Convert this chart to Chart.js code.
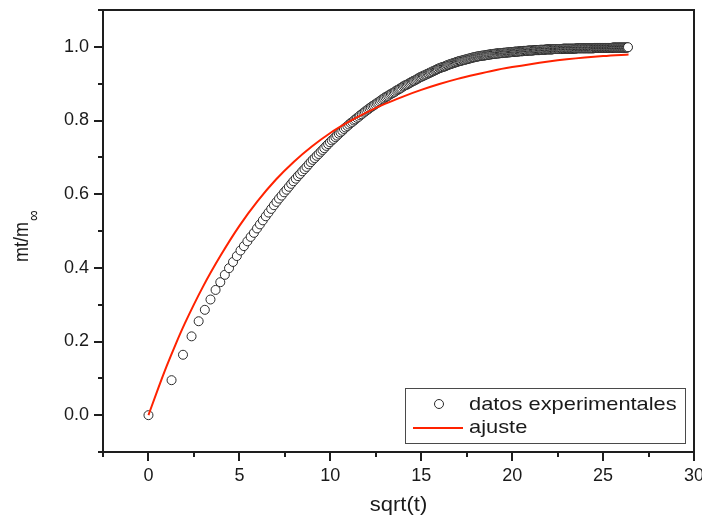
<!DOCTYPE html>
<html>
<head>
<meta charset="utf-8">
<script src="https://cdn.jsdelivr.net/npm/chart.js@4.4.1/dist/chart.umd.min.js"></script>
<style>
  html, body { margin: 0; padding: 0; background: #fff; }
  canvas { display: block; }
</style>
</head>
<body>
<canvas id="grafico" width="702" height="516"></canvas>
<script>
const xDatos = [
  0, 1.27, 1.90, 2.37, 2.76, 3.10, 3.41, 3.69, 3.95, 4.20,
  4.43, 4.65, 4.86, 5.06, 5.25, 5.44, 5.62, 5.80, 5.97, 6.13,
  6.29, 6.45, 6.60, 6.75, 6.90, 7.04, 7.18, 7.32, 7.46, 7.59,
  7.72, 7.85, 7.97, 8.10, 8.22, 8.34, 8.46, 8.58, 8.69, 8.81,
  8.92, 9.03, 9.14, 9.25, 9.36, 9.47, 9.57, 9.67, 9.78, 9.88,
  9.98, 10.08, 10.18, 10.28, 10.37, 10.47, 10.56, 10.66, 10.75, 10.84,
  10.94, 11.03, 11.12, 11.21, 11.30, 11.38, 11.47, 11.56, 11.64, 11.73,
  11.82, 11.90, 11.98, 12.07, 12.15, 12.23, 12.31, 12.39, 12.47, 12.55,
  12.63, 12.71, 12.79, 12.87, 12.95, 13.02, 13.10, 13.18, 13.25, 13.33,
  13.40, 13.48, 13.55, 13.62, 13.70, 13.77, 13.84, 13.91, 13.99, 14.06,
  14.13, 14.20, 14.27, 14.34, 14.41, 14.48, 14.55, 14.61, 14.68, 14.75,
  14.82, 14.89, 14.95, 15.02, 15.09, 15.15, 15.22, 15.28, 15.35, 15.41,
  15.48, 15.54, 15.61, 15.67, 15.74, 15.80, 15.86, 15.92, 15.99, 16.05,
  16.11, 16.17, 16.24, 16.30, 16.36, 16.42, 16.48, 16.54, 16.60, 16.66,
  16.72, 16.78, 16.84, 16.90, 16.96, 17.02, 17.08, 17.13, 17.19, 17.25,
  17.31, 17.37, 17.42, 17.48, 17.54, 17.59, 17.65, 17.71, 17.76, 17.82,
  17.88, 17.93, 17.99, 18.04, 18.10, 18.15, 18.21, 18.26, 18.32, 18.37,
  18.43, 18.48, 18.54, 18.59, 18.64, 18.70, 18.75, 18.80, 18.86, 18.91,
  18.96, 19.02, 19.07, 19.12, 19.17, 19.22, 19.28, 19.33, 19.38, 19.43,
  19.48, 19.53, 19.59, 19.64, 19.69, 19.74, 19.79, 19.84, 19.89, 19.94,
  19.99, 20.04, 20.09, 20.14, 20.19, 20.24, 20.29, 20.34, 20.39, 20.44,
  20.48, 20.53, 20.58, 20.63, 20.68, 20.73, 20.77, 20.82, 20.87, 20.92,
  20.97, 21.01, 21.06, 21.11, 21.16, 21.20, 21.25, 21.30, 21.34, 21.39,
  21.44, 21.49, 21.53, 21.58, 21.62, 21.67, 21.72, 21.76, 21.81, 21.85,
  21.90, 21.95, 21.99, 22.04, 22.08, 22.13, 22.17, 22.22, 22.26, 22.31,
  22.35, 22.40, 22.44, 22.49, 22.53, 22.57, 22.62, 22.66, 22.71, 22.75,
  22.80, 22.84, 22.88, 22.93, 22.97, 23.01, 23.06, 23.10, 23.14, 23.19,
  23.23, 23.27, 23.32, 23.36, 23.40, 23.44, 23.49, 23.53, 23.57, 23.61,
  23.66, 23.70, 23.74, 23.78, 23.82, 23.87, 23.91, 23.95, 23.99, 24.03,
  24.07, 24.12, 24.16, 24.20, 24.24, 24.28, 24.32, 24.36, 24.40, 24.45,
  24.49, 24.53, 24.57, 24.61, 24.65, 24.69, 24.73, 24.77, 24.81, 24.85,
  24.89, 24.93, 24.97, 25.01, 25.05, 25.09, 25.13, 25.17, 25.21, 25.25,
  25.29, 25.33, 25.37, 25.41, 25.45, 25.49, 25.53, 25.56, 25.60, 25.64,
  25.68, 25.72, 25.76, 25.80, 25.84, 25.88, 25.92, 25.95, 25.99, 26.03,
  26.07, 26.11, 26.15, 26.18, 26.22, 26.26, 26.30, 26.34, 26.37
];
const yDatos = [
  0, 0.095, 0.164, 0.214, 0.255, 0.286, 0.314, 0.340, 0.361, 0.381,
  0.399, 0.416, 0.432, 0.447, 0.459, 0.472, 0.484, 0.495, 0.507, 0.518,
  0.529, 0.540, 0.550, 0.560, 0.570, 0.579, 0.588, 0.596, 0.605, 0.612,
  0.620, 0.628, 0.635, 0.642, 0.649, 0.655, 0.662, 0.668, 0.674, 0.681,
  0.687, 0.693, 0.698, 0.704, 0.709, 0.715, 0.720, 0.725, 0.731, 0.736,
  0.741, 0.746, 0.750, 0.755, 0.759, 0.764, 0.768, 0.772, 0.777, 0.781,
  0.785, 0.789, 0.793, 0.796, 0.800, 0.803, 0.807, 0.810, 0.814, 0.817,
  0.821, 0.824, 0.827, 0.830, 0.833, 0.836, 0.839, 0.841, 0.844, 0.847,
  0.849, 0.852, 0.855, 0.858, 0.860, 0.863, 0.865, 0.867, 0.870, 0.872,
  0.874, 0.876, 0.878, 0.881, 0.883, 0.885, 0.887, 0.889, 0.892, 0.894,
  0.896, 0.897, 0.899, 0.901, 0.903, 0.905, 0.907, 0.908, 0.910, 0.912,
  0.914, 0.916, 0.918, 0.919, 0.921, 0.922, 0.924, 0.925, 0.927, 0.928,
  0.930, 0.931, 0.933, 0.934, 0.936, 0.937, 0.939, 0.940, 0.942, 0.943,
  0.944, 0.945, 0.946, 0.947, 0.948, 0.950, 0.951, 0.952, 0.953, 0.954,
  0.955, 0.956, 0.957, 0.958, 0.959, 0.960, 0.961, 0.962, 0.962, 0.963,
  0.964, 0.965, 0.965, 0.966, 0.967, 0.968, 0.968, 0.969, 0.970, 0.971,
  0.971, 0.972, 0.973, 0.973, 0.974, 0.974, 0.975, 0.975, 0.976, 0.976,
  0.976, 0.977, 0.977, 0.978, 0.978, 0.979, 0.979, 0.979, 0.980, 0.980,
  0.981, 0.981, 0.981, 0.982, 0.982, 0.982, 0.982, 0.983, 0.983, 0.983,
  0.983, 0.984, 0.984, 0.984, 0.984, 0.985, 0.985, 0.985, 0.985, 0.986,
  0.986, 0.986, 0.986, 0.987, 0.987, 0.987, 0.987, 0.987, 0.988, 0.988,
  0.988, 0.988, 0.988, 0.989, 0.989, 0.989, 0.989, 0.989, 0.990, 0.990,
  0.990, 0.990, 0.990, 0.990, 0.990, 0.991, 0.991, 0.991, 0.991, 0.991,
  0.991, 0.991, 0.992, 0.992, 0.992, 0.992, 0.992, 0.992, 0.992, 0.993,
  0.993, 0.993, 0.993, 0.993, 0.993, 0.993, 0.993, 0.993, 0.994, 0.994,
  0.994, 0.994, 0.994, 0.994, 0.994, 0.994, 0.994, 0.994, 0.994, 0.994,
  0.995, 0.995, 0.995, 0.995, 0.995, 0.995, 0.995, 0.995, 0.995, 0.995,
  0.995, 0.995, 0.995, 0.995, 0.995, 0.995, 0.995, 0.996, 0.996, 0.996,
  0.996, 0.996, 0.996, 0.996, 0.996, 0.996, 0.996, 0.996, 0.996, 0.996,
  0.996, 0.996, 0.996, 0.996, 0.996, 0.996, 0.996, 0.996, 0.996, 0.996,
  0.996, 0.997, 0.997, 0.997, 0.997, 0.997, 0.997, 0.997, 0.997, 0.997,
  0.997, 0.997, 0.997, 0.997, 0.997, 0.997, 0.997, 0.997, 0.997, 0.997,
  0.997, 0.997, 0.997, 0.997, 0.997, 0.997, 0.998, 0.998, 0.998, 0.998,
  0.998, 0.998, 0.998, 0.998, 0.998, 0.998, 0.998, 0.998, 0.998, 0.998,
  0.998, 0.998, 0.998, 0.998, 0.998, 0.998, 0.998, 0.998, 0.999
];

// curva de ajuste
const xAjuste = [0, 0.5, 1, 1.5, 2, 3, 4, 5, 6, 7, 8, 9, 10, 11, 12, 13, 14, 15, 16, 17, 18, 19, 20, 21, 22, 23, 24, 25, 26, 26.4];
const yAjuste = [0, 0.068, 0.133, 0.193, 0.249, 0.349, 0.436, 0.514, 0.581, 0.639, 0.688, 0.730, 0.766, 0.796, 0.822, 0.845, 0.865, 0.883, 0.899, 0.913, 0.925, 0.936, 0.945, 0.953, 0.960, 0.966, 0.971, 0.975, 0.978, 0.979];

// marcas de los ejes (las vacias son marcas menores)
const ejeXMarcas = [-2.5, 0, 2.5, 5, 7.5, 10, 12.5, 15, 17.5, 20, 22.5, 25, 27.5, 30];
const ejeXEtiquetas = ['', '0', '', '5', '', '10', '', '15', '', '20', '', '25', '', '30'];
const ejeYMarcas = [-0.1, 0, 0.1, 0.2, 0.3, 0.4, 0.5, 0.6, 0.7, 0.8, 0.9, 1.0, 1.1];
const ejeYEtiquetas = ['', '0.0', '', '0.2', '', '0.4', '', '0.6', '', '0.8', '', '1.0', ''];

const fuente = '"Liberation Sans", Arial, sans-serif';
const colorTexto = '#1a1a1a';
const rojo = '#ff2200';

// marco, marcas, leyenda y titulos de los ejes
const marco = {
  id: 'marco',
  afterDraw(chart) {
    const ctx = chart.ctx;
    const a = chart.chartArea;
    const sx = chart.scales.x;
    const sy = chart.scales.y;
    const linea = (x1, y1, x2, y2) => {
      ctx.beginPath(); ctx.moveTo(x1, y1); ctx.lineTo(x2, y2); ctx.stroke();
    };
    ctx.save();
    ctx.strokeStyle = '#1e1e1e';
    ctx.lineWidth = 2;
    ejeYMarcas.forEach((v, i) => {
      const py = Math.round(sy.getPixelForValue(v));
      linea(a.left - (ejeYEtiquetas[i] ? 9 : 5), py, a.left, py);
    });
    ejeXMarcas.forEach((v, i) => {
      const px = Math.round(sx.getPixelForValue(v));
      linea(px, a.bottom, px, a.bottom + (ejeXEtiquetas[i] ? 9 : 5));
    });
    ctx.strokeRect(a.left, a.top, a.right - a.left, a.bottom - a.top);

    // leyenda
    const ds = chart.data.datasets;
    ctx.lineWidth = 1;
    ctx.strokeStyle = '#4a4a4a';
    ctx.strokeRect(405.5, 388.5, 280, 55);
    ctx.beginPath();
    ctx.arc(439, 404, 4.5, 0, 2 * Math.PI);
    ctx.fillStyle = '#fff';
    ctx.fill();
    ctx.strokeStyle = '#2a2a2a';
    ctx.stroke();
    ctx.strokeStyle = rojo;
    ctx.lineWidth = 2;
    linea(413, 428, 463, 428);
    ctx.fillStyle = colorTexto;
    ctx.font = '19px ' + fuente;
    ctx.textAlign = 'left';
    ctx.textBaseline = 'alphabetic';
    [[ds[1].label, 410], [ds[0].label, 433]].forEach(([txt, y]) => {
      ctx.save();
      ctx.translate(469, y);
      ctx.scale(1.15, 1);
      ctx.fillText(txt, 0, 0);
      ctx.restore();
    });

    // titulo eje x
    ctx.save();
    ctx.translate((a.left + a.right) / 2, 511);
    ctx.scale(1.1, 1);
    ctx.font = '20px ' + fuente;
    ctx.textAlign = 'center';
    ctx.fillText('sqrt(t)', 0, 0);
    ctx.restore();

    // titulo eje y con subindice
    ctx.save();
    ctx.translate(28, 262);
    ctx.scale(1.13, 1);
    ctx.rotate(-Math.PI / 2);
    ctx.font = '18px ' + fuente;
    ctx.textAlign = 'left';
    ctx.fillText('mt/m', 0, 0);
    const w = ctx.measureText('mt/m').width;
    ctx.font = '15px ' + fuente;
    ctx.fillText('\u221E', w + 1, 10);
    ctx.restore();

    ctx.restore();
  }
};

const grafico = new Chart(document.getElementById('grafico'), {
  type: 'scatter',
  data: {
    datasets: [
      {
        label: 'ajuste',
        data: xAjuste.map((x, i) => ({ x: x, y: yAjuste[i] })),
        showLine: true,
        borderColor: rojo,
        borderWidth: 2,
        pointRadius: 0,
        cubicInterpolationMode: 'monotone',
        fill: false
      },
      {
        label: 'datos experimentales',
        data: xDatos.map((x, i) => ({ x: x, y: yDatos[i] })),
        showLine: false,
        pointStyle: 'circle',
        pointRadius: 4.5,
        borderWidth: 1,
        borderColor: '#2a2a2a',
        backgroundColor: '#fff',
        pointBorderColor: '#2a2a2a',
        pointBackgroundColor: '#fff'
      }
    ]
  },
  options: {
    responsive: false,
    animation: false,
    devicePixelRatio: 1,
    layout: { padding: { top: 10, right: 8, left: 0, bottom: 0 } },
    plugins: {
      legend: { display: false },
      tooltip: { enabled: false }
    },
    scales: {
      x: {
        type: 'linear',
        min: -2.5,
        max: 30,
        afterBuildTicks: s => { s.ticks = ejeXMarcas.map(v => ({ value: v })); },
        afterFit: s => { s.height = 64; s.paddingLeft = 0; s.paddingRight = 0; },
        grid: { display: false, drawTicks: false },
        border: { display: false },
        ticks: {
          autoSkip: false,
          maxRotation: 0,
          padding: 13,
          color: colorTexto,
          font: { family: fuente, size: 18 },
          callback: (v, i) => ejeXEtiquetas[i]
        }
      },
      y: {
        type: 'linear',
        min: -0.1,
        max: 1.1,
        afterBuildTicks: s => { s.ticks = ejeYMarcas.map(v => ({ value: v })); },
        afterFit: s => { s.width = 103; s.paddingTop = 0; s.paddingBottom = 0; },
        grid: { display: false, drawTicks: false },
        border: { display: false },
        ticks: {
          autoSkip: false,
          padding: 14,
          color: colorTexto,
          font: { family: fuente, size: 18 },
          callback: (v, i) => ejeYEtiquetas[i]
        }
      }
    }
  },
  plugins: [marco]
});
</script>
</body>
</html>
